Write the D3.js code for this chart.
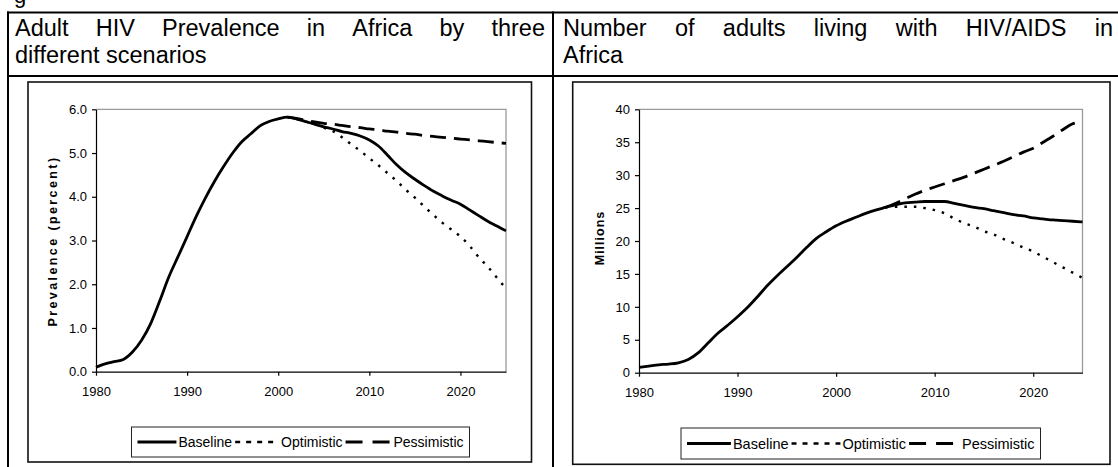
<!DOCTYPE html>
<html><head><meta charset="utf-8">
<script src="https://cdn.jsdelivr.net/npm/d3@7"></script>
<style>
html,body{margin:0;padding:0;background:#fff;overflow:hidden;}
svg{display:block;font-family:"Liberation Sans",Arial,sans-serif;}
</style></head><body>
<svg id="c" width="1118" height="467"></svg>
<script>
// ---------------- DATA ----------------
const years = [1980,1981,1982,1983,1984,1985,1986,1987,1988,1989,1990,1991,1992,1993,1994,1995,1996,1997,1998,1999,2000,2001,2002,2003,2004,2005,2006,2007,2008,2009,2010,2011,2012,2013,2014,2015,2016,2017,2018,2019,2020,2021,2022,2023,2024,2025];

// Left chart: adult HIV prevalence (percent)
const prevBaseline = [0.10,0.18,0.23,0.28,0.45,0.72,1.10,1.62,2.17,2.63,3.09,3.55,3.97,4.35,4.69,5.00,5.26,5.44,5.62,5.72,5.78,5.82,5.78,5.72,5.66,5.60,5.55,5.49,5.45,5.39,5.30,5.16,4.95,4.73,4.55,4.40,4.26,4.13,4.02,3.92,3.83,3.70,3.57,3.44,3.33,3.22];
const prevScenarioYears = [2001,2002,2003,2004,2005,2006,2007,2008,2009,2010,2011,2012,2013,2014,2015,2016,2017,2018,2019,2020,2021,2022,2023,2024,2025];
const prevOptimistic = [5.82,5.78,5.72,5.66,5.58,5.50,5.36,5.20,5.05,4.88,4.72,4.54,4.36,4.16,3.98,3.78,3.59,3.41,3.25,3.09,2.88,2.62,2.40,2.15,1.90];
const prevPessimistic = [5.82,5.79,5.75,5.71,5.68,5.66,5.63,5.60,5.58,5.55,5.53,5.50,5.48,5.45,5.43,5.40,5.38,5.36,5.34,5.32,5.30,5.28,5.26,5.24,5.22];

// Right chart: number of adults living with HIV/AIDS (millions)
const numBaseline = [0.8,1.0,1.2,1.3,1.5,2.0,3.0,4.5,6.0,7.2,8.5,9.9,11.5,13.2,14.7,16.1,17.5,19.0,20.4,21.4,22.3,23.0,23.6,24.2,24.7,25.1,25.5,25.8,25.9,26.0,26.0,26.0,25.7,25.4,25.1,24.9,24.6,24.3,24.0,23.8,23.5,23.35,23.2,23.1,23.0,22.9];
const numScenarioYears = [2005,2006,2007,2008,2009,2010,2011,2012,2013,2014,2015,2016,2017,2018,2019,2020,2021,2022,2023,2024,2025];
const numOptimistic = [25.1,25.2,25.2,25.2,25.0,24.7,24.2,23.4,22.7,22.2,21.5,21.0,20.3,19.7,19.0,18.4,17.6,16.8,16.0,15.2,14.4];
const numPessimistic = [25.1,25.7,26.4,27.1,27.7,28.2,28.7,29.2,29.7,30.3,30.9,31.5,32.1,32.8,33.5,34.1,35.0,35.9,36.9,37.8,38.1];

const xTickValues = [1980,1990,2000,2010,2020];
const prevTickValues = [0,1,2,3,4,5,6];
const numTickValues = [0,5,10,15,20,25,30,35,40];
const seriesNames = ["Baseline","Optimistic","Pessimistic"];

const leftTitle = ["Adult HIV Prevalence in Africa by three", "different scenarios"];
const rightTitle = ["Number of adults living with HIV/AIDS in", "Africa"];

// ---------------- DRAW ----------------
const svg = d3.select("#c");
const FONT = '"Liberation Sans",Arial,sans-serif';

// Table lines
const tbl = svg.append("g").attr("stroke","#000").attr("stroke-width",2);
tbl.append("line").attr("x1",7).attr("x2",1118).attr("y1",12.5).attr("y2",12.5);
tbl.append("line").attr("x1",7).attr("x2",1118).attr("y1",76).attr("y2",76);
tbl.append("line").attr("x1",8).attr("x2",8).attr("y1",11.5).attr("y2",467);
tbl.append("line").attr("x1",553).attr("x2",553).attr("y1",11.5).attr("y2",467);

// cut-off text above table
svg.append("text").attr("x",14).attr("y",3).attr("font-size",22).text("g");

function justifyLine(text, x0, x1, y, size) {
  const words = text.split(" ");
  const g = svg.append("g").attr("font-size", size);
  const nodes = words.map(w => g.append("text").attr("y", y).text(w));
  const widths = nodes.map(n => n.node().getComputedTextLength());
  const total = d3.sum(widths);
  const gap = (x1 - x0 - total) / (words.length - 1);
  let x = x0;
  nodes.forEach((n, i) => { n.attr("x", x); x += widths[i] + gap; });
}
function titleBlock(lines, x0, x1, y0, lh, size) {
  justifyLine(lines[0], x0, x1, y0, size);
  svg.append("text").attr("x", x0).attr("y", y0 + lh).attr("font-size", size).text(lines[1]);
}
titleBlock(leftTitle, 15, 545, 36, 27, 23.5);
titleBlock(rightTitle, 563, 1113, 36, 27, 23.5);

const styles = {
  Baseline:    {dash: null,   width: 2.8, legendDash: null},
  Optimistic:  {dash: "2.5,7", width: 2.4, legendDash: "5,6"},
  Pessimistic: {dash: "16,8", width: 2.8, legendDash: "17,10"}
};

function drawChart(o) {
  const g = svg.append("g");
  // chart area frame
  g.append("rect").attr("x", o.frame[0]).attr("y", o.frame[1])
    .attr("width", o.frame[2]-o.frame[0]).attr("height", o.frame[3]-o.frame[1])
    .attr("fill","none").attr("stroke","#111").attr("stroke-width",1.6);

  const x = d3.scaleLinear().domain([1980,2025]).range([o.plot[0], o.plot[2]]);
  const y = d3.scaleLinear().domain(o.yDomain).range([o.plot[3], o.plot[1]]);

  // plot area border (gray)
  g.append("path")
    .attr("d", `M${o.plot[0]},${o.plot[1]}H${o.plot[2]}V${o.plot[3]}`)
    .attr("fill","none").attr("stroke","#9a9a9a").attr("stroke-width",1.3);

  const ya = g.append("g").attr("transform",`translate(${o.plot[0]},0)`)
    .call(d3.axisLeft(y).tickValues(o.yTicks).tickSize(4).tickSizeOuter(0).tickPadding(o.yPad).tickFormat(o.yFormat));
  const xa = g.append("g").attr("transform",`translate(0,${o.plot[3]})`)
    .call(d3.axisBottom(x).tickValues(xTickValues).tickSize(4).tickSizeOuter(0).tickPadding(o.xPad).tickFormat(d3.format("d")));
  [ya, xa].forEach(a => {
    a.attr("font-family", FONT).attr("font-size", 13);
    a.selectAll("path,line").attr("stroke","#000").attr("stroke-width",1.2);
    a.selectAll("text").attr("fill","#000");
  });

  // y label
  g.append("text").attr("transform",`translate(${o.label[0]},${o.label[1]}) rotate(-90)`)
    .attr("text-anchor","middle").attr("font-weight","bold").attr("font-size",12.5)
    .attr("letter-spacing", o.labelSpacing).text(o.labelText);

  const line = d3.line().x(d => x(d[0])).y(d => y(d[1])).curve(d3.curveMonotoneX);
  o.series.forEach(s => {
    const st = styles[s.name];
    g.append("path").datum(d3.zip(s.years, s.values)).attr("d", line)
      .attr("fill","none").attr("stroke","#000").attr("stroke-width", st.width)
      .attr("stroke-dasharray", st.dash).attr("stroke-linejoin","round");
  });

  // legend
  const L = o.legend; // [x0,y0,x1,y1]
  const lg = g.append("g");
  lg.append("rect").attr("x",L[0]).attr("y",L[1]).attr("width",L[2]-L[0]).attr("height",L[3]-L[1])
    .attr("fill","#fff").attr("stroke","#222").attr("stroke-width",1);
  const cy = (L[1]+L[3])/2;
  const sampleLen = [40, 45, 47];
  const fs = o.legendFont;
  const texts = seriesNames.map(n => lg.append("text").attr("font-size",fs).attr("y", cy + fs*0.36).text(n));
  const tw = texts.map(t => t.node().getComputedTextLength());
  const inner = (L[2]-L[0]) - 12;
  const used = d3.sum(tw) + d3.sum(sampleLen) + 2*3 + 3*2;
  const extra = (inner - used) / 3;
  let cx = L[0] + 6;
  seriesNames.forEach((n, i) => {
    const st = styles[n];
    const len = sampleLen[i] + extra;
    lg.append("line").attr("x1", cx).attr("x2", cx + len).attr("y1", cy).attr("y2", cy)
      .attr("stroke","#000").attr("stroke-width", st.width)
      .attr("stroke-dasharray", st.legendDash);
    cx += len + 2;
    texts[i].attr("x", cx);
    cx += tw[i] + 3;
  });
}

drawChart({
  frame: [28, 82, 531.5, 462],
  plot: [96, 109.3, 506, 371.7],
  yDomain: [0, 6], yTicks: prevTickValues, yFormat: d3.format(".1f"),
  yPad: 5, xPad: 11,
  label: [57, 241], labelText: "Prevalence (percent)", labelSpacing: 2.4,
  legend: [131.5, 427, 469.5, 457], legendFont: 14,
  series: [
    {name: "Baseline", years: years, values: prevBaseline},
    {name: "Optimistic", years: prevScenarioYears, values: prevOptimistic},
    {name: "Pessimistic", years: prevScenarioYears, values: prevPessimistic}
  ]
});
drawChart({
  frame: [572.7, 82, 1110, 464.3],
  plot: [639, 109.3, 1082.5, 372.7],
  yDomain: [0, 40], yTicks: numTickValues, yFormat: d3.format("d"),
  yPad: 5, xPad: 11,
  label: [604, 238], labelText: "Millions", labelSpacing: 1,
  legend: [681, 428, 1040.5, 459], legendFont: 14.5,
  series: [
    {name: "Baseline", years: years, values: numBaseline},
    {name: "Optimistic", years: numScenarioYears, values: numOptimistic},
    {name: "Pessimistic", years: numScenarioYears, values: numPessimistic}
  ]
});
</script>
</body></html>
